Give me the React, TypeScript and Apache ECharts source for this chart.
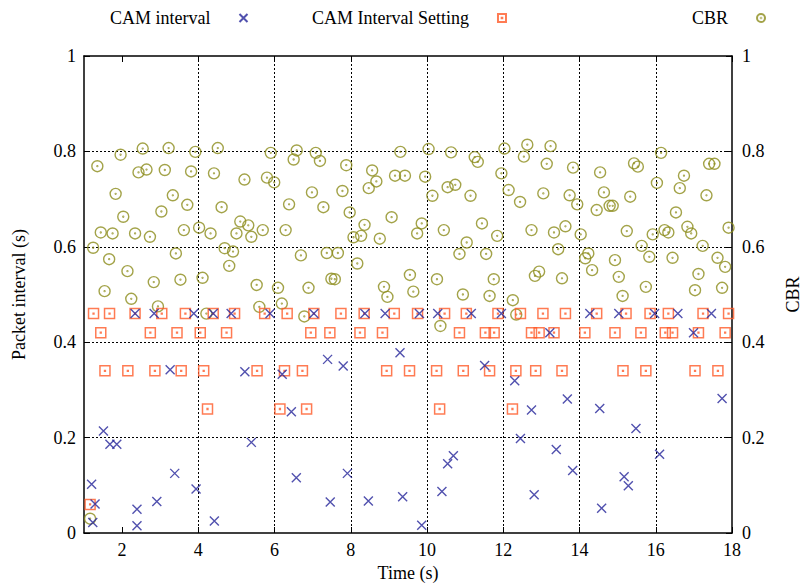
import React, { useEffect, useRef } from "react";
import * as echarts from "echarts";

// CAM interval (time s, packet interval s)
const camIntervalTime = [1.2, 1.23, 1.29, 1.51, 1.68, 1.86, 2.34, 2.39, 2.39, 2.84, 2.91, 3.26, 3.38, 3.88, 3.94, 4.39, 4.42, 4.86, 5.22, 5.39, 5.88, 6.2, 6.44, 6.57, 7.03, 7.39, 7.46, 7.8, 7.91, 8.37, 8.46, 8.9, 9.29, 9.36, 9.8, 9.86, 10.28, 10.39, 10.54, 10.69, 11.16, 11.51, 11.95, 12.3, 12.45, 12.74, 12.81, 13.22, 13.39, 13.68, 13.82, 14.27, 14.53, 14.58, 15.03, 15.17, 15.28, 15.48, 15.97, 16.1, 16.58, 16.99, 17.46, 17.74];
const camIntervalValue = [0.102, 0.022, 0.061, 0.214, 0.186, 0.186, 0.46, 0.05, 0.015, 0.46, 0.066, 0.342, 0.125, 0.46, 0.092, 0.46, 0.025, 0.46, 0.338, 0.19, 0.46, 0.333, 0.254, 0.116, 0.46, 0.364, 0.065, 0.35, 0.125, 0.46, 0.067, 0.46, 0.378, 0.076, 0.46, 0.016, 0.46, 0.087, 0.145, 0.162, 0.46, 0.351, 0.46, 0.319, 0.198, 0.258, 0.08, 0.42, 0.175, 0.281, 0.131, 0.46, 0.261, 0.052, 0.46, 0.118, 0.099, 0.219, 0.46, 0.165, 0.46, 0.42, 0.46, 0.282];

// CAM Interval Setting
const settingTime = [1.16, 1.25, 1.44, 1.55, 1.67, 2.15, 2.34, 2.74, 2.86, 3.04, 3.44, 3.55, 3.66, 4.05, 4.14, 4.24, 4.39, 4.74, 4.95, 5.54, 5.74, 6.14, 6.26, 6.33, 6.73, 6.84, 6.95, 7.03, 7.45, 7.74, 8.24, 8.35, 8.83, 8.94, 9.14, 9.54, 9.75, 10.25, 10.33, 10.46, 10.85, 10.95, 11.03, 11.53, 11.64, 11.76, 11.86, 12.24, 12.33, 12.45, 12.74, 12.85, 12.94, 13.04, 13.33, 13.54, 13.63, 14.14, 14.45, 14.93, 15.14, 15.22, 15.61, 15.74, 15.85, 16.25, 16.33, 16.44, 17.03, 17.12, 17.24, 17.63, 17.82, 17.91];
const settingValue = [0.06, 0.46, 0.42, 0.34, 0.46, 0.34, 0.46, 0.42, 0.34, 0.46, 0.42, 0.34, 0.46, 0.42, 0.34, 0.26, 0.46, 0.42, 0.46, 0.34, 0.46, 0.26, 0.34, 0.46, 0.34, 0.26, 0.42, 0.46, 0.42, 0.46, 0.42, 0.46, 0.42, 0.34, 0.46, 0.34, 0.46, 0.34, 0.26, 0.46, 0.42, 0.34, 0.46, 0.42, 0.34, 0.42, 0.46, 0.26, 0.34, 0.46, 0.42, 0.34, 0.42, 0.46, 0.42, 0.34, 0.46, 0.42, 0.46, 0.42, 0.34, 0.46, 0.42, 0.34, 0.46, 0.42, 0.46, 0.42, 0.34, 0.42, 0.46, 0.34, 0.42, 0.46];

// CBR
const cbrTime = [1.16, 1.24, 1.35, 1.44, 1.54, 1.66, 1.75, 1.83, 1.96, 2.03, 2.14, 2.24, 2.34, 2.43, 2.54, 2.64, 2.73, 2.83, 2.94, 3.03, 3.12, 3.22, 3.33, 3.41, 3.53, 3.62, 3.71, 3.81, 3.92, 4.02, 4.11, 4.21, 4.32, 4.41, 4.51, 4.61, 4.69, 4.81, 4.91, 5.0, 5.1, 5.21, 5.31, 5.39, 5.53, 5.6, 5.69, 5.8, 5.9, 5.99, 6.09, 6.19, 6.29, 6.38, 6.5, 6.58, 6.69, 6.78, 6.89, 6.98, 7.08, 7.19, 7.28, 7.37, 7.49, 7.58, 7.66, 7.78, 7.88, 7.97, 8.07, 8.17, 8.27, 8.36, 8.47, 8.56, 8.67, 8.76, 8.87, 8.96, 9.07, 9.16, 9.3, 9.42, 9.55, 9.64, 9.74, 9.86, 9.95, 10.04, 10.14, 10.26, 10.35, 10.44, 10.54, 10.63, 10.74, 10.85, 10.94, 11.04, 11.14, 11.25, 11.33, 11.44, 11.55, 11.64, 11.75, 11.84, 11.95, 12.03, 12.14, 12.25, 12.34, 12.44, 12.54, 12.63, 12.74, 12.83, 12.94, 13.05, 13.14, 13.24, 13.33, 13.44, 13.54, 13.63, 13.74, 13.83, 13.94, 14.03, 14.15, 14.23, 14.33, 14.45, 14.54, 14.64, 14.79, 14.87, 14.93, 15.03, 15.13, 15.24, 15.33, 15.43, 15.53, 15.63, 15.74, 15.83, 15.92, 16.03, 16.14, 16.23, 16.33, 16.44, 16.53, 16.63, 16.74, 16.83, 16.93, 17.03, 17.12, 17.23, 17.33, 17.4, 17.54, 17.62, 17.74, 17.82, 17.91];
const cbrValue = [0.03, 0.598, 0.769, 0.63, 0.507, 0.574, 0.628, 0.711, 0.793, 0.663, 0.549, 0.491, 0.628, 0.756, 0.806, 0.762, 0.621, 0.526, 0.475, 0.674, 0.761, 0.807, 0.708, 0.586, 0.531, 0.635, 0.688, 0.758, 0.799, 0.64, 0.535, 0.46, 0.628, 0.754, 0.807, 0.683, 0.597, 0.56, 0.59, 0.628, 0.653, 0.741, 0.645, 0.621, 0.52, 0.474, 0.635, 0.745, 0.797, 0.735, 0.514, 0.481, 0.635, 0.689, 0.783, 0.802, 0.582, 0.454, 0.514, 0.714, 0.797, 0.78, 0.683, 0.587, 0.533, 0.532, 0.587, 0.717, 0.771, 0.672, 0.62, 0.565, 0.623, 0.646, 0.723, 0.76, 0.737, 0.617, 0.516, 0.495, 0.662, 0.749, 0.799, 0.749, 0.541, 0.506, 0.628, 0.649, 0.747, 0.805, 0.707, 0.532, 0.434, 0.635, 0.725, 0.798, 0.73, 0.585, 0.5, 0.609, 0.707, 0.788, 0.778, 0.649, 0.585, 0.497, 0.532, 0.623, 0.754, 0.806, 0.719, 0.488, 0.458, 0.694, 0.789, 0.814, 0.635, 0.539, 0.548, 0.712, 0.774, 0.811, 0.63, 0.595, 0.534, 0.643, 0.708, 0.766, 0.689, 0.626, 0.576, 0.586, 0.551, 0.677, 0.756, 0.714, 0.686, 0.686, 0.572, 0.537, 0.497, 0.633, 0.705, 0.775, 0.768, 0.602, 0.516, 0.579, 0.626, 0.734, 0.797, 0.635, 0.63, 0.577, 0.672, 0.723, 0.749, 0.642, 0.628, 0.509, 0.543, 0.602, 0.708, 0.774, 0.774, 0.577, 0.514, 0.558, 0.64];

const xTicks = [2, 4, 6, 8, 10, 12, 14, 16, 18];

const FONT = "Liberation Serif";
const CROSS = "path://M0,0L10,10M10,0L0,10";
const SQUARE = "path://M0,0H10V10H0Z M4.6,4.6H5.4V5.4H4.6Z";
const CIRCLE = "path://M10,5A5,5,0,1,1,0,5A5,5,0,1,1,10,5Z M5.4,5A0.4,0.4,0,1,1,4.6,5A0.4,0.4,0,1,1,5.4,5Z";

const zip = (a: number[], b: number[]) => a.map((v, i) => [v, b[i]]);

export default function App() {
  const ref = useRef<HTMLDivElement>(null);
  useEffect(() => {
    if (!ref.current) return;
    const chart = echarts.init(ref.current, undefined, { renderer: "svg" });
    const txt = { fontFamily: FONT, fontSize: 18, color: "#000" };
    const dotted = { color: "#000", width: 1, type: [2, 2] as any };
    const yBase = {
      type: "value",
      min: 0,
      max: 1,
      interval: 0.2,
      axisLine: { show: true, lineStyle: { color: "#000", width: 1.5 } },
      axisTick: { show: true, inside: true, length: 6, lineStyle: { color: "#000" } },
      splitLine: { show: false },
    };
    const legendBase = {
      orient: "horizontal",
      align: "right",
      top: 9,
      padding: 0,
      itemWidth: 8,
      itemHeight: 8,
      textStyle: { ...txt, padding: [0, 24, 0, 0] },
    };
    chart.setOption({
      animation: false,
      backgroundColor: "#fff",
      grid: { left: 84, right: 73, top: 56, bottom: 54, containLabel: false, outerBoundsMode: "none" },
      legend: [
        { ...legendBase, left: 110, data: ["CAM interval"] },
        { ...legendBase, left: 312, data: ["CAM Interval Setting"] },
        { ...legendBase, left: 692, data: ["CBR"] },
      ],
      xAxis: [
        {
          type: "value",
          min: 1,
          max: 18,
          name: "Time (s)",
          nameLocation: "middle",
          nameGap: 31,
          nameTextStyle: txt,
          axisLine: { show: true, onZero: false, lineStyle: { color: "#000", width: 1.5 } },
          axisTick: { show: true, inside: true, length: 6, customValues: xTicks, lineStyle: { color: "#000" } },
          axisLabel: { ...txt, margin: 8, customValues: xTicks },
          splitLine: { show: true, showMinLine: false, showMaxLine: false, lineStyle: dotted },
        },
        {
          type: "value",
          position: "top",
          min: 1,
          max: 18,
          axisLine: { show: true, onZero: false, lineStyle: { color: "#000", width: 1.5 } },
          axisTick: { show: true, inside: true, length: 6, customValues: xTicks, lineStyle: { color: "#000" } },
          axisLabel: { show: false },
          splitLine: { show: false },
        },
      ],
      yAxis: [
        {
          ...yBase,
          position: "left",
          name: "Packet interval (s)",
          nameLocation: "middle",
          nameRotate: 90,
          nameGap: 56,
          nameTextStyle: txt,
          axisLabel: { ...txt, margin: 8 },
          splitLine: { show: true, showMinLine: false, showMaxLine: false, lineStyle: dotted },
        },
        {
          ...yBase,
          position: "right",
          name: "CBR",
          nameLocation: "middle",
          nameRotate: 90,
          nameGap: 52,
          nameTextStyle: txt,
          axisLabel: { ...txt, margin: 10 },
        },
      ],
      series: [
        {
          name: "CAM interval",
          type: "scatter",
          xAxisIndex: 0,
          yAxisIndex: 0,
          symbol: CROSS,
          symbolSize: 9,
          itemStyle: { color: "rgba(0,0,0,0)", borderColor: "#26269a", borderWidth: 1.4 },
          data: zip(camIntervalTime, camIntervalValue),
          z: 4,
        },
        {
          name: "CAM Interval Setting",
          type: "scatter",
          xAxisIndex: 0,
          yAxisIndex: 0,
          symbol: SQUARE,
          symbolSize: 10,
          itemStyle: { color: "rgba(0,0,0,0)", borderColor: "#ff5a28", borderWidth: 1.5 },
          data: zip(settingTime, settingValue),
          z: 3,
        },
        {
          name: "CBR",
          type: "scatter",
          xAxisIndex: 0,
          yAxisIndex: 1,
          symbol: CIRCLE,
          symbolSize: 11,
          itemStyle: { color: "rgba(0,0,0,0)", borderColor: "#8c8c1c", borderWidth: 1.4 },
          data: zip(cbrTime, cbrValue),
          z: 2,
        },
      ],
    });
    return () => chart.dispose();
  }, []);
  return <div ref={ref} style={{ width: 805, height: 587, position: "absolute", left: 0, top: 0 }} />;
}
